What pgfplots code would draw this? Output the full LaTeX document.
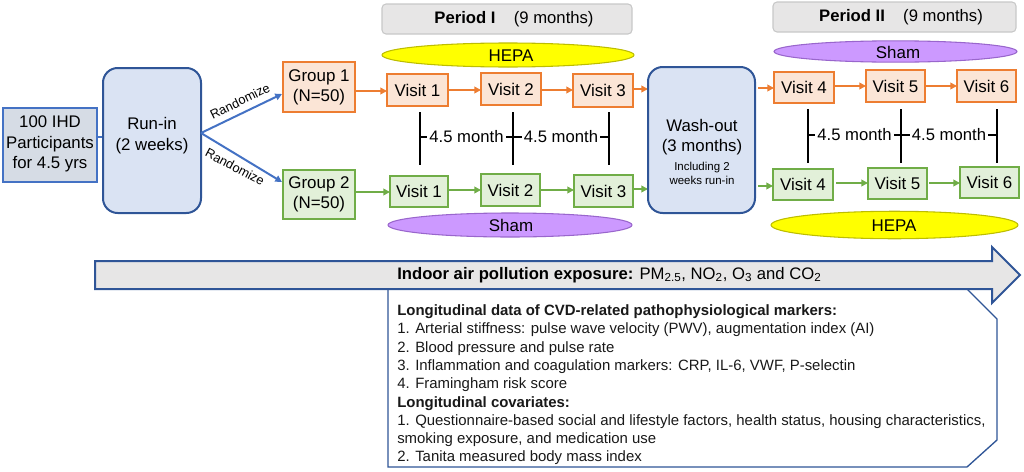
\documentclass[border=0pt]{standalone}
\usepackage{pgfplots}
\pgfplotsset{compat=1.18}
\usepackage{fontspec}
\setmainfont{Liberation Sans}
\usetikzlibrary{arrows.meta,calc}

\definecolor{orB}{HTML}{ED7D31}
\definecolor{orF}{HTML}{FBE5D6}
\definecolor{grB}{HTML}{70AD47}
\definecolor{grF}{HTML}{E2F0D9}
\definecolor{blB}{HTML}{4472C4}
\definecolor{dbB}{HTML}{2F5597}
\definecolor{blF}{HTML}{DAE3F3}
\definecolor{gyF}{HTML}{E7E6E6}
\definecolor{gyB}{HTML}{C8C8C8}
\definecolor{leftF}{HTML}{D6DCE5}
\definecolor{yelF}{HTML}{FFFF00}
\definecolor{yelB}{HTML}{BDBD00}
\definecolor{purF}{HTML}{CC99FF}
\definecolor{purB}{HTML}{9966CC}

\tikzset{
  ob/.style={draw=orB,fill=orF,line width=1.5pt},
  gb/.style={draw=grB,fill=grF,line width=1.5pt},
  oa/.style={orB,line width=1.5pt,-{Triangle[length=5pt,width=5pt]}},
  ga/.style={grB,line width=1.5pt,-{Triangle[length=5pt,width=5pt]}},
  ba/.style={blB,line width=1.5pt,-{Triangle[length=5pt,width=5pt]}},
  vl/.style={black,line width=1.1pt},
  mt/.style={fill=white,inner sep=1.5pt,font=\fontsize{12.5}{15}\selectfont},
  ct/.style={anchor=west,inner sep=0pt,font=\fontsize{11.2}{13}\selectfont,text=black!90},
}

\newcommand{\bx}[6]{%
  \draw[#5] (axis cs:#1,#2) rectangle (axis cs:#3,#4);
  \node[align=center,inner sep=0pt,font=\fontsize{12.7}{15}\selectfont] at ($(axis cs:#1,#2)!0.5!(axis cs:#3,#4)$) {#6};}

\begin{document}
\begin{tikzpicture}
\begin{axis}[x=0.75pt,y=0.75pt,xmin=0,xmax=1024,ymin=0,ymax=471,
  y dir=reverse,hide axis,clip=false,scale only axis]
\path (axis cs:0,0) rectangle (axis cs:1024,471);

% left part
\draw[blB,line width=1.5pt] (axis cs:97,137) -- (axis cs:103,137);
\bx{3}{108}{97}{182}{draw=blB,fill=leftF,line width=1.5pt}{}
\node[align=center,inner sep=0pt,font=\fontsize{12.6}{15.6}\selectfont] at (axis cs:50,144) {100 IHD\\Participants\\for 4.5 yrs};
\draw[draw=dbB,fill=blF,line width=1.5pt,rounded corners=11pt] (axis cs:103,68) rectangle (axis cs:201,213);
\node[align=center,inner sep=0pt,font=\fontsize{12.6}{15.6}\selectfont] at (axis cs:152,136) {Run-in\\(2 weeks)};
\draw[ba] (axis cs:201,133) -- (axis cs:282,94);
\draw[ba] (axis cs:201,133) -- (axis cs:282,182);
\node[rotate=26,inner sep=0pt,font=\fontsize{9.6}{11}\selectfont] at (axis cs:240,101) {Randomize};
\node[rotate=-28,inner sep=0pt,font=\fontsize{9.6}{11}\selectfont] at (axis cs:235,167) {Randomize};

\bx{283}{62}{355}{112}{ob}{Group 1\\(N=50)}
\bx{283}{170}{355}{219}{gb}{Group 2\\(N=50)}

% Period I
\draw[rounded corners=3pt,fill=gyF,draw=gyB,line width=0.8pt] (axis cs:382,4) rectangle (axis cs:632,34);
\node[inner sep=0pt,font=\fontsize{12.5}{15}\selectfont] at (axis cs:514,19) {\textbf{Period I}\hspace{1.1em}(9 months)};
\draw[fill=yelF,draw=yelB,line width=0.8pt] (axis cs:508,55) ellipse [x radius=94.5pt,y radius=9pt];
\node[inner sep=0pt,font=\fontsize{12.7}{15}\selectfont] at (axis cs:511,56) {HEPA};
\draw[fill=purF,draw=purB,line width=0.8pt] (axis cs:510,225) ellipse [x radius=91.5pt,y radius=9pt];
\node[inner sep=0pt,font=\fontsize{12.7}{15}\selectfont] at (axis cs:511,225) {Sham};

\draw[oa] (axis cs:355,91) -- (axis cs:387,91);
\draw[oa] (axis cs:448,90) -- (axis cs:481,90);
\draw[oa] (axis cs:541,90) -- (axis cs:573,90);
\draw[oa] (axis cs:633,89) -- (axis cs:648,89);
\bx{387}{74}{448}{106}{ob}{Visit 1}
\bx{481}{73}{541}{105}{ob}{Visit 2}
\bx{573}{74}{633}{107}{ob}{Visit 3}

\draw[ga] (axis cs:355,192) -- (axis cs:390,192);
\draw[ga] (axis cs:448,190) -- (axis cs:481,190);
\draw[ga] (axis cs:540,190) -- (axis cs:574,190);
\draw[ga] (axis cs:633,189) -- (axis cs:648,189);
\bx{390}{176}{448}{207}{gb}{Visit 1}
\bx{481}{174}{540}{206}{gb}{Visit 2}
\bx{574}{175}{633}{207}{gb}{Visit 3}

\draw[vl] (axis cs:420,112) -- (axis cs:420,165);
\draw[vl] (axis cs:513,112) -- (axis cs:513,165);
\draw[vl] (axis cs:609,112) -- (axis cs:609,165);
\draw[vl] (axis cs:420,137) -- (axis cs:609,137);
\node[mt] at (axis cs:466.5,137) {4.5 month};
\node[mt] at (axis cs:561,137) {4.5 month};

% Wash-out
\draw[draw=dbB,fill=blF,line width=1.5pt,rounded corners=11pt] (axis cs:648,67) rectangle (axis cs:755,213);
\node[align=center,inner sep=0pt,font=\fontsize{12.6}{15}\selectfont] at (axis cs:702,137) {Wash-out\\(3 months)};
\node[align=center,inner sep=0pt,font=\fontsize{8.6}{10.5}\selectfont] at (axis cs:702,173) {Including 2\\weeks run-in};

% Period II
\draw[rounded corners=3pt,fill=gyF,draw=gyB,line width=0.8pt] (axis cs:773,2) rectangle (axis cs:1016,32);
\node[inner sep=0pt,font=\fontsize{12.5}{15}\selectfont] at (axis cs:901,17) {\textbf{Period II}\hspace{1.1em}(9 months)};
\draw[fill=purF,draw=purB,line width=0.8pt] (axis cs:895.5,51.5) ellipse [x radius=91.1pt,y radius=8pt];
\node[inner sep=0pt,font=\fontsize{12.7}{15}\selectfont] at (axis cs:898,52) {Sham};
\draw[fill=yelF,draw=yelB,line width=0.8pt] (axis cs:894.5,225) ellipse [x radius=92.6pt,y radius=10.3pt];
\node[inner sep=0pt,font=\fontsize{12.7}{15}\selectfont] at (axis cs:894,226) {HEPA};

\draw[oa] (axis cs:758,88) -- (axis cs:774,88);
\draw[oa] (axis cs:834,86) -- (axis cs:866,86);
\draw[oa] (axis cs:925,86) -- (axis cs:957,86);
\bx{774}{72}{834}{103}{ob}{Visit 4}
\bx{866}{70}{925}{102}{ob}{Visit 5}
\bx{957}{70}{1016}{102}{ob}{Visit 6}

\draw[ga] (axis cs:758,186) -- (axis cs:773,186);
\draw[ga] (axis cs:836,183) -- (axis cs:868,183);
\draw[ga] (axis cs:929,183) -- (axis cs:960,183);
\bx{773}{169}{833}{200}{gb}{Visit 4}
\bx{868}{168}{927}{199}{gb}{Visit 5}
\bx{960}{167}{1019}{198}{gb}{Visit 6}

\draw[vl] (axis cs:808,109) -- (axis cs:808,163);
\draw[vl] (axis cs:901,109) -- (axis cs:901,163);
\draw[vl] (axis cs:997,109) -- (axis cs:997,163);
\draw[vl] (axis cs:808,135) -- (axis cs:997,135);
\node[mt] at (axis cs:854.5,135) {4.5 month};
\node[mt] at (axis cs:949,135) {4.5 month};

% callout and big arrow
\draw[dbB,line width=1pt,fill=white,line join=miter] (axis cs:388,289) -- (axis cs:967,289) -- (axis cs:997,319) -- (axis cs:997,440) -- (axis cs:967,467) -- (axis cs:388,467) -- cycle;
\draw[dbB,line width=1.5pt,fill=gyF,line join=miter] (axis cs:95,261) -- (axis cs:992,261) -- (axis cs:992,247) -- (axis cs:1020,275) -- (axis cs:992,303) -- (axis cs:992,289) -- (axis cs:95,289) -- cycle;
\node[anchor=west,inner sep=0pt,font=\fontsize{12.5}{15}\selectfont] at (axis cs:397,275) {\textbf{Indoor air pollution exposure:} PM\textsubscript{2.5}, NO\textsubscript{2}, O\textsubscript{3} and CO\textsubscript{2}};

\node[ct] at (axis cs:397,312) {\textbf{Longitudinal data of CVD-related pathophysiological markers:}};
\node[ct] at (axis cs:397,330) {1. Arterial stiffness: pulse wave velocity (PWV), augmentation index (AI)};
\node[ct] at (axis cs:397,348.5) {2. Blood pressure and pulse rate};
\node[ct] at (axis cs:397,367) {3. Inflammation and coagulation markers: CRP, IL-6, VWF, P-selectin};
\node[ct] at (axis cs:397,385) {4. Framingham risk score};
\node[ct] at (axis cs:397,403.5) {\textbf{Longitudinal covariates:}};
\node[ct] at (axis cs:397,422) {1. Questionnaire-based social and lifestyle factors, health status, housing characteristics,};
\node[ct] at (axis cs:397,440) {smoking exposure, and medication use};
\node[ct] at (axis cs:397,457.5) {2. Tanita measured body mass index};
\end{axis}
\end{tikzpicture}
\end{document}
